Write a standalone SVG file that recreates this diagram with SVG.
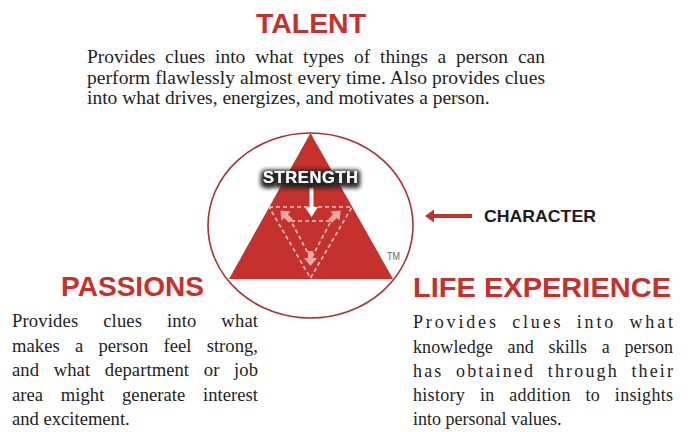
<svg xmlns="http://www.w3.org/2000/svg" width="691" height="432" viewBox="0 0 691 432">
  <defs>
    <style>
      .head { font-family: "Liberation Sans", Arial, sans-serif; font-weight: bold; font-size: 28px; fill: #c5312d; }
      .body { font-family: "Liberation Serif", "Times New Roman", serif; fill: #1e1e1e; }
      .dash { fill: none; stroke: #f4cbc7; stroke-width: 1.6; stroke-dasharray: 4 3; }
      .pink { fill: #f0a6a2; }
    </style>
    <!-- soft dark halo behind the white label -->
    <filter id="halo" x="-30%" y="-80%" width="160%" height="260%">
      <feMorphology in="SourceAlpha" operator="dilate" radius="1.5" result="fat"/>
      <feGaussianBlur in="fat" stdDeviation="2.6" result="blur"/>
      <feOffset in="blur" dy="1.5" result="off"/>
      <feFlood flood-color="#262626" flood-opacity="0.95"/>
      <feComposite in2="off" operator="in" result="shadow"/>
      <feMerge>
        <feMergeNode in="shadow"/>
        <feMergeNode in="shadow"/>
        <feMergeNode in="SourceGraphic"/>
      </feMerge>
    </filter>
    <!-- small block arrow pointing down, tail at the origin -->
    <path id="pinkArrow" d="M-2.6,0 L2.6,0 L2.6,7 L6.6,7 L0,15 L-6.6,7 L-2.6,7 Z"/>
  </defs>

  <rect x="0" y="0" width="691" height="432" fill="#ffffff"/>

  <!-- TALENT -->
  <g id="node-talent">
    <text class="head" x="311" y="33" text-anchor="middle" textLength="110" lengthAdjust="spacingAndGlyphs">TALENT</text>
    <g class="body" font-size="19.5">
      <text x="87" y="63" word-spacing="5" textLength="458" lengthAdjust="spacing">Provides clues into what types of things a person can</text>
      <text x="87" y="83.5" textLength="458" lengthAdjust="spacing">perform flawlessly almost every time. Also provides clues</text>
      <text x="87" y="104">into what drives, energizes, and motivates a person.</text>
    </g>
  </g>

  <!-- central strength model -->
  <g id="node-strength">
    <ellipse cx="310.5" cy="225.5" rx="102.5" ry="92.5" fill="#ffffff" stroke="#a8302f" stroke-width="1.6"/>
    <polygon points="310.5,133 229,279 393,279" fill="#c5312d"/>
    <!-- dashed inverted triangles -->
    <polygon class="dash" points="269,207 352,207 310.5,278"/>
    <polygon class="dash" points="291,221 331,221 311,259"/>
    <!-- pink arrows toward the corners -->
    <use href="#pinkArrow" class="pink" transform="translate(291,221) rotate(135)"/>
    <use href="#pinkArrow" class="pink" transform="translate(330,221) rotate(-135)"/>
    <use href="#pinkArrow" class="pink" transform="translate(310.5,251)"/>
    <!-- white arrow under the label -->
    <path d="M309.5,188 L313.5,188 L313.5,207 L318,207 L311.5,217 L305,207 L309.5,207 Z" fill="#ffffff"/>
    <g filter="url(#halo)">
      <text x="310.5" y="182.5" text-anchor="middle" font-family="Liberation Sans, Arial, sans-serif" font-weight="bold" font-size="16.5" fill="#ffffff" textLength="95" lengthAdjust="spacing">STRENGTH</text>
    </g>
    <text x="387" y="259.5" font-family="Liberation Sans, Arial, sans-serif" font-size="11" fill="#666666" textLength="13" lengthAdjust="spacingAndGlyphs">TM</text>
  </g>

  <!-- CHARACTER -->
  <g id="node-character">
    <text x="484" y="221.5" font-family="Liberation Sans, Arial, sans-serif" font-weight="bold" font-size="17" fill="#1c1c1c" textLength="112" lengthAdjust="spacingAndGlyphs">CHARACTER</text>
  </g>

  <!-- PASSIONS -->
  <g id="node-passions">
    <text class="head" x="61" y="296" textLength="143" lengthAdjust="spacingAndGlyphs">PASSIONS</text>
    <g class="body" font-size="18.6">
      <text x="12" y="327" word-spacing="20" textLength="246" lengthAdjust="spacing">Provides clues into what</text>
      <text x="12" y="351.5" word-spacing="10.5" textLength="246" lengthAdjust="spacing">makes a person feel strong,</text>
      <text x="12" y="376" word-spacing="10" textLength="246" lengthAdjust="spacing">and what department or job</text>
      <text x="12" y="400.5" word-spacing="13" textLength="246" lengthAdjust="spacing">area might generate interest</text>
      <text x="12" y="425">and excitement.</text>
    </g>
  </g>

  <!-- LIFE EXPERIENCE -->
  <g id="node-life-experience">
    <text class="head" x="413" y="297" textLength="258" lengthAdjust="spacingAndGlyphs">LIFE EXPERIENCE</text>
    <g class="body" font-size="18">
      <text x="413" y="328" word-spacing="6" textLength="260" lengthAdjust="spacing">Provides clues into what</text>
      <text x="413" y="352.5" word-spacing="10" textLength="260" lengthAdjust="spacing">knowledge and skills a person</text>
      <text x="413" y="377" word-spacing="6" textLength="260" lengthAdjust="spacing">has obtained through their</text>
      <text x="413" y="401" word-spacing="10" textLength="260" lengthAdjust="spacing">history in addition to insights</text>
      <text x="413" y="425">into personal values.</text>
    </g>
  </g>

  <!-- connectors -->
  <g id="connectors">
    <path d="M425,216 L434,209.5 L434,214 L472,214 L472,218 L434,218 L434,222.5 Z" fill="#c5312d"/>
  </g>
</svg>
